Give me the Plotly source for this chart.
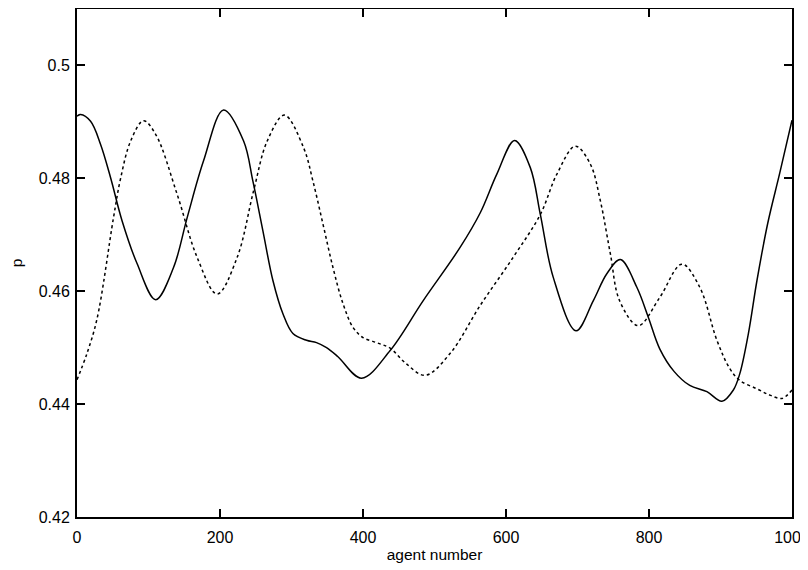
import plotly.graph_objects as go

solid_x = [0, 5, 19, 33, 47, 63, 84, 110, 135, 154, 177, 205, 233, 246, 260, 274, 288, 302,
           321, 335, 349, 365, 398, 438, 484, 536, 564, 587, 612, 634, 648, 666, 698, 722,
           741, 760, 783, 799, 815, 835, 857, 881, 902, 918, 927, 939, 951, 966, 983, 1000]
solid_y = [0.4910, 0.4913, 0.4901, 0.4860, 0.4801, 0.4725, 0.4649, 0.4585, 0.4642, 0.4730,
           0.4831, 0.4921, 0.4866, 0.4795, 0.4707, 0.4619, 0.4560, 0.4525, 0.4513, 0.4509,
           0.4500, 0.4484, 0.4446, 0.4495, 0.4583, 0.4678, 0.4739, 0.4807, 0.4867, 0.4819,
           0.4736, 0.4625, 0.4530, 0.4583, 0.4631, 0.4656, 0.4607, 0.4554, 0.4498, 0.4458,
           0.4433, 0.4422, 0.4405, 0.4425, 0.4454, 0.4525, 0.4619, 0.4720, 0.4810, 0.4903]

dotted_x = [0, 14, 28, 51, 61, 75, 93, 110, 140, 168, 196, 224, 247, 266, 290, 317, 330, 344,
            358, 372, 386, 400, 421, 438, 460, 487, 522, 564, 610, 648, 671, 697, 718, 732,
            746, 759, 785, 815, 846, 871, 895, 913, 927, 951, 969, 986, 1000]
dotted_y = [0.4443, 0.4490, 0.4551, 0.4730, 0.4800, 0.4866, 0.4902, 0.4878, 0.4772, 0.4660,
            0.4595, 0.4660, 0.4778, 0.4866, 0.4912, 0.4854, 0.4795, 0.4719, 0.4642, 0.4578,
            0.4536, 0.4518, 0.4508, 0.4499, 0.4472, 0.4451, 0.4490, 0.4575, 0.4660, 0.4736,
            0.4807, 0.4857, 0.4825, 0.4760, 0.4666, 0.4583, 0.4539, 0.4589, 0.4648, 0.4607,
            0.4513, 0.4463, 0.4442, 0.4427, 0.4416, 0.4410, 0.4425]

x_ticks = [0, 200, 400, 600, 800, 1000]
y_ticks = [0.42, 0.44, 0.46, 0.48, 0.5]
y_tick_text = ["0.42", "0.44", "0.46", "0.48", "0.5"]

fig = go.Figure()
fig.add_trace(go.Scatter(x=solid_x, y=solid_y, mode="lines",
                         line=dict(color="black", width=1.5, shape="spline", smoothing=1.0),
                         showlegend=False))
fig.add_trace(go.Scatter(x=dotted_x, y=dotted_y, mode="lines",
                         line=dict(color="black", width=1.5, dash="dot", shape="spline", smoothing=1.0),
                         showlegend=False))

tick_font = dict(family="Liberation Sans, Arial, sans-serif", size=16, color="black")
title_font = dict(family="Liberation Sans, Arial, sans-serif", size=15.5, color="black")
# the page body has an 8px default margin, so the figure is sized to the visible area
fig.update_layout(
    width=800, height=562,
    margin=dict(l=69, r=16, t=1, b=53, autoexpand=False),
    paper_bgcolor="white", plot_bgcolor="white",
    font=tick_font,
    xaxis=dict(range=[0, 1000], tickvals=x_ticks, ticks="inside", ticklen=8, tickwidth=1.5,
               tickcolor="black", showline=True, linecolor="black", linewidth=2, mirror="ticks",
               showgrid=False, zeroline=False, automargin=False, tickfont=tick_font,
               ticklabelstandoff=5, ticklabeloverflow="allow",
               title=dict(text="agent number", standoff=4, font=title_font)),
    yaxis=dict(range=[0.42, 0.51], tickvals=y_ticks, ticktext=y_tick_text, ticks="inside",
               ticklen=8, tickwidth=1.5, tickcolor="black", showline=True, linecolor="black",
               linewidth=2, mirror="ticks", showgrid=False, zeroline=False, automargin=False,
               tickfont=tick_font, ticklabelstandoff=2,
               title=dict(text="p", standoff=19, font=title_font)),
)

fig.write_html("out.html")
